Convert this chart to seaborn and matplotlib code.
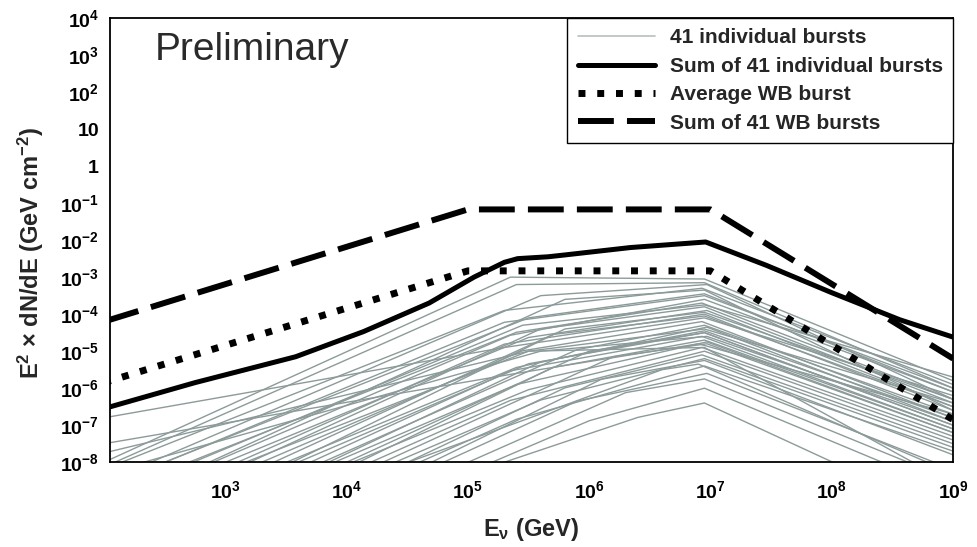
import numpy as np
import pandas as pd
import matplotlib
matplotlib.use("Agg")
import matplotlib.pyplot as plt
from matplotlib.lines import Line2D
from matplotlib.ticker import FixedLocator, FixedFormatter, LogLocator, NullFormatter
import seaborn as sns

# ---- data (log10 values) ----
x_lo, x_hi = 112, 1e9

# Waxman-Bahcall curves: corners in log10(E/GeV), log10(flux)
wb_log_e = [2.0, 5.0, 7.0, 9.0]
wb_sum_log_f = [-4.2, -1.17, -1.17, -5.2]
wb_avg_log_f = [-5.85, -2.83, -2.83, -6.85]

# sum of the 41 individual bursts (thick solid curve)
sum_log_e = [2.0, 2.75, 3.58, 4.14, 4.68, 5.05, 5.30, 5.41, 5.66, 5.80, 6.34, 6.96, 7.46, 8.0, 8.56, 9.0]
sum_log_f = [-6.55, -5.85, -5.15, -4.47, -3.7, -3.0, -2.6, -2.5, -2.45, -2.4, -2.2, -2.05, -2.68, -3.42, -4.15, -4.62]

# 41 individual bursts: flux at E=1e2, first break (e1, f1), second break (e2, f2), flux at 1e9
burst_e1 = [5.35, 5.4, 5.6, 5.3, 5.8, 5.5,
            5.3, 5.4, 5.5, 5.6,
            5.3, 5.4, 5.35, 5.5, 5.3, 5.6, 5.45, 5.7, 5.4, 5.8, 5.5, 5.35, 5.9, 5.6,
            5.4, 6.0, 5.5, 5.7, 5.35, 6.2, 5.6, 5.8, 5.4, 6.1, 5.9, 6.3, 6.0, 6.4,
            5.5, 6.6, 5.45]
burst_f0 = [-8.0, -8.13, -8.54, -8.19, -9.3, -8.65,
            -6.8, -7.5, -7.75, -8.3,
            -8.68, -8.91, -9.26, -9.35, -9.6, -9.8, -9.82, -10.1, -10.03, -10.48, -10.24, -10.55, -10.61, -10.87,
            -10.66, -11.0, -10.77, -11.36, -11.19, -11.45, -11.36, -11.88, -11.77, -12.32, -12.2, -12.35, -12.48, -11.63,
            -9.5, -11.0, -9.0]
burst_f1 = [-3.0, -3.2, -3.5, -3.9, -3.6, -4.1,
            -4.9, -5.6, -5.0, -5.0,
            -4.22, -4.49, -4.57, -4.63, -4.81, -4.4, -4.99, -4.55, -5.44, -4.4, -5.34, -5.53, -4.96, -5.29,
            -5.9, -5.0, -6.04, -5.44, -6.33, -5.15, -6.32, -5.99, -6.84, -5.76, -6.35, -6.12, -6.88, -6.79,
            -5.0, -5.5, -4.3]
burst_e2 = [6.95, 6.95, 6.97, 6.93, 6.95, 6.95,
            6.95, 6.9, 6.95, 6.97,
            6.95, 6.93, 6.95, 6.97, 6.95, 6.95, 6.93, 6.95, 6.97, 6.95, 6.95, 6.93, 6.95, 6.95,
            6.97, 6.95, 6.93, 6.95, 6.95, 6.97, 6.95, 6.93, 6.95, 6.95, 6.97, 6.95, 6.95, 6.95,
            6.95, 6.9, 6.95]
burst_f2 = [-3.05, -3.15, -3.2, -3.3, -3.35, -3.45,
            -4.1, -4.8, -4.4, -4.6,
            -3.5, -3.7, -3.6, -3.9, -4.0, -3.8, -4.2, -4.05, -4.35, -3.95, -4.5, -4.6, -4.3, -4.45,
            -4.75, -4.5, -4.9, -4.7, -5.0, -4.8, -5.2, -5.1, -5.4, -5.25, -5.6, -5.75, -6.0, -6.4,
            -4.9, -5.35, -3.75]
burst_f3 = [-5.8, -6.0, -6.3, -5.9, -6.6, -6.1,
            -6.2, -6.7, -6.4, -6.9,
            -6.0, -6.3, -6.1, -6.5, -6.6, -6.4, -6.8, -6.5, -6.9, -6.3, -7.0, -7.1, -6.7, -6.8,
            -7.2, -7.0, -7.3, -7.1, -7.4, -7.2, -7.6, -7.5, -7.7, -7.8, -8.2, -8.5, -8.8, -9.5,
            -8.6, -8.3, -5.7]

y_ticks = [1e-8, 1e-7, 1e-6, 1e-5, 1e-4, 1e-3, 1e-2, 1e-1, 1, 10, 1e2, 1e3, 1e4]
y_tick_labels = ["$10^{-8}$", "$10^{-7}$", "$10^{-6}$", "$10^{-5}$", "$10^{-4}$", "$10^{-3}$",
                 "$10^{-2}$", "$10^{-1}$", "1", "10", "$10^{2}$", "$10^{3}$", "$10^{4}$"]
x_ticks = [1e3, 1e4, 1e5, 1e6, 1e7, 1e8, 1e9]
x_tick_labels = ["$10^{3}$", "$10^{4}$", "$10^{5}$", "$10^{6}$", "$10^{7}$", "$10^{8}$", "$10^{9}$"]

legend_labels = ["41 individual bursts", "Sum of 41 individual bursts",
                 "Average WB burst", "Sum of 41 WB bursts"]

# ---- style ----
sns.set_style("white")
plt.rcParams["font.family"] = ["Liberation Sans", "DejaVu Sans"]
plt.rcParams["font.weight"] = "bold"
plt.rcParams["mathtext.fontset"] = "custom"
plt.rcParams["mathtext.rm"] = "Liberation Sans:bold"
plt.rcParams["mathtext.bf"] = "Liberation Sans:bold"
plt.rcParams["mathtext.it"] = "Liberation Sans:bold"
plt.rcParams["mathtext.default"] = "rm"

grey = "#8c9b9a"

# long-form table for the individual bursts
rows = []
for i in range(len(burst_e1)):
    es = [2.0, burst_e1[i], burst_e2[i], 9.0]
    fs = [burst_f0[i], burst_f1[i], burst_f2[i], burst_f3[i]]
    for e, f in zip(es, fs):
        rows.append({"burst": i, "E": 10 ** e, "F": 10 ** f})
bursts = pd.DataFrame(rows)

fig = plt.figure(figsize=(9.78, 5.47), dpi=100)
ax = fig.add_axes([0.1125, 0.155, 0.862, 0.812])
ax.set_xscale("log")
ax.set_yscale("log")

sns.lineplot(data=bursts, x="E", y="F", units="burst", estimator=None, sort=False,
             color=grey, lw=1.0, ax=ax, legend=False)

sns.lineplot(x=[10 ** e for e in sum_log_e], y=[10 ** f for f in sum_log_f],
             color="black", lw=3.6, ax=ax, sort=False)
sns.lineplot(x=[10 ** e for e in wb_log_e], y=[10 ** f for f in wb_avg_log_f],
             color="black", lw=5, ax=ax, sort=False)
ax.lines[-1].set_linestyle((0, (1, 1.7)))
sns.lineplot(x=[10 ** e for e in wb_log_e], y=[10 ** f for f in wb_sum_log_f],
             color="black", lw=4.3, ax=ax, sort=False)
ax.lines[-1].set_linestyle((0, (6, 2.2)))

ax.set_xlim(x_lo, x_hi)
ax.set_ylim(1e-8, 1e4)

ax.xaxis.set_major_locator(FixedLocator(x_ticks))
ax.xaxis.set_major_formatter(FixedFormatter(x_tick_labels))
ax.yaxis.set_major_locator(FixedLocator(y_ticks))
ax.yaxis.set_major_formatter(FixedFormatter(y_tick_labels))
ax.xaxis.set_minor_locator(LogLocator(base=10, subs=np.arange(2, 10), numticks=20))
ax.yaxis.set_minor_locator(LogLocator(base=10, subs=np.arange(2, 10), numticks=20))
ax.xaxis.set_minor_formatter(NullFormatter())
ax.yaxis.set_minor_formatter(NullFormatter())
ax.tick_params(axis="both", which="major", direction="in", length=8, width=1.2,
               labelsize=14, colors="black")
ax.tick_params(axis="x", which="major", pad=13)
ax.tick_params(axis="y", which="major", pad=8)
ax.tick_params(axis="both", which="minor", direction="in", length=4, width=1.0)
for sp in ax.spines.values():
    sp.set_color("black")
    sp.set_linewidth(1.3)

ax.set_xlabel(r"E$_{\nu}$ (GeV)", fontsize=17, fontweight="bold")
ax.set_ylabel(r"E$^{2}$ × dN/dE (GeV cm$^{-2}$)", fontsize=17, fontweight="bold")
ax.xaxis.set_label_coords(0.5, -0.122)
ax.yaxis.set_label_coords(-0.076, 0.47)

ax.text(0.053, 0.928, "Preliminary", transform=ax.transAxes, fontsize=28,
        fontweight="normal", color="#2a2a2a", va="center", ha="left")

handles = [Line2D([], [], color="#b8bfbf", lw=1.2),
           Line2D([], [], color="black", lw=3.6),
           Line2D([], [], color="black", lw=5, linestyle=(0, (1, 1.7))),
           Line2D([], [], color="black", lw=4.3, linestyle=(0, (6, 2.2)))]
leg = ax.legend(handles, legend_labels, loc="upper right", bbox_to_anchor=(1, 1),
                borderaxespad=0, frameon=True, fancybox=False, edgecolor="black",
                framealpha=1, prop={"weight": "bold", "size": 15},
                handlelength=3.7, labelspacing=0.45, borderpad=0.5, handletextpad=0.7)
leg.get_frame().set_linewidth(1.0)

fig.savefig("out.png", dpi=100)
